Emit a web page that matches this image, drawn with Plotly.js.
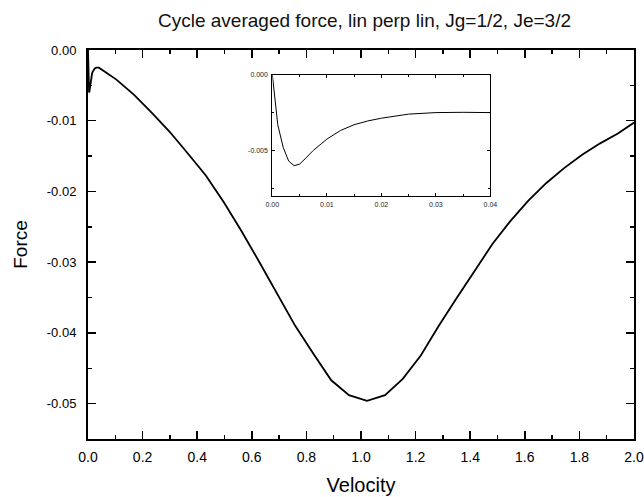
<!DOCTYPE html>
<html>
<head>
<meta charset="utf-8">
<script src="https://cdn.plot.ly/plotly-3.0.1.min.js"></script>
<style>html,body{margin:0;padding:0;background:#fff;}#chart{width:644px;height:497px;}</style>
</head>
<body>
<div id="chart"></div>
<script>
var velocity = [0, 0.001, 0.002, 0.003, 0.004, 0.005, 0.006, 0.0075, 0.009, 0.01, 0.0125, 0.015, 0.0175, 0.02, 0.025, 0.03, 0.035, 0.04,
  0.103, 0.168, 0.234, 0.300, 0.365, 0.431, 0.497, 0.562, 0.628, 0.694, 0.759, 0.825, 0.891, 0.956, 1.022,
  1.088, 1.153, 1.219, 1.285, 1.350, 1.416, 1.482, 1.547, 1.613, 1.679, 1.744, 1.810, 1.876, 1.941, 2.007];
var force = [0, -0.0033, -0.0048, -0.0057, -0.0060, -0.0059, -0.00555, -0.0050, -0.00455, -0.00425, -0.00368, -0.0033, -0.00305, -0.00287, -0.0026, -0.0025, -0.00248, -0.0025,
  -0.00415, -0.0063, -0.0089, -0.0116, -0.0146, -0.0177, -0.0215, -0.0256, -0.0300, -0.0346, -0.0390, -0.0429, -0.0467, -0.0488, -0.0496,
  -0.0488, -0.0465, -0.0432, -0.0390, -0.0351, -0.0313, -0.0274, -0.0242, -0.0213, -0.0188, -0.0167, -0.0148, -0.0132, -0.0118, -0.0101];

var mainXTicks = [0, 0.2, 0.4, 0.6, 0.8, 1.0, 1.2, 1.4, 1.6, 1.8, 2.0];
var mainXLabels = ["0.0", "0.2", "0.4", "0.6", "0.8", "1.0", "1.2", "1.4", "1.6", "1.8", "2.0"];
var mainYTicks = [0, -0.01, -0.02, -0.03, -0.04, -0.05];
var mainYLabels = ["0.00", "-0.01", "-0.02", "-0.03", "-0.04", "-0.05"];
var insetXTicks = [0, 0.01, 0.02, 0.03, 0.04];
var insetXLabels = ["0.00", "0.01", "0.02", "0.03", "0.04"];
var insetYTicks = [0, -0.005];
var insetYLabels = ["0.000", "-0.005"];

var font = "Liberation Sans, Arial, sans-serif";

var traces = [
  {x: velocity, y: force, type: "scatter", mode: "lines", line: {color: "#000", width: 1.8}, xaxis: "x", yaxis: "y", hoverinfo: "none"},
  {x: velocity, y: force, type: "scatter", mode: "lines", line: {color: "#000", width: 1}, xaxis: "x2", yaxis: "y2", hoverinfo: "none"}
];

var layout = {
  width: 644, height: 497,
  margin: {l: 88, r: 10, t: 50, b: 58},
  paper_bgcolor: "#fff", plot_bgcolor: "#fff",
  showlegend: false,
  font: {family: font, color: "#000"},
  title: {text: "Cycle averaged force, lin perp lin, Jg=1/2, Je=3/2", font: {size: 19, color: "#111"}, x: 0.566, xanchor: "center", y: 0.96, yanchor: "middle"},
  xaxis: {
    domain: [0, 1], range: [0, 2], showgrid: false, zeroline: false,
    showline: true, linewidth: 2, linecolor: "#000", mirror: "ticks",
    ticks: "inside", ticklen: 8, tickwidth: 1.5, tickcolor: "#000",
    tickvals: mainXTicks, ticktext: mainXLabels, tickfont: {size: 14},
    ticklabelstandoff: 4,
    minor: {dtick: 0.1, ticks: "inside", ticklen: 4, tickwidth: 1.5, tickcolor: "#000"},
    title: {text: "Velocity", font: {size: 20}, standoff: 14}
  },
  yaxis: {
    domain: [0, 1], range: [-0.055, 0], showgrid: false, zeroline: false,
    showline: true, linewidth: 2, linecolor: "#000", mirror: "ticks",
    ticks: "inside", ticklen: 8, tickwidth: 1.5, tickcolor: "#000",
    tickvals: mainYTicks, ticktext: mainYLabels, tickfont: {size: 13},
    ticklabelstandoff: 7,
    minor: {dtick: 0.005, tick0: 0, ticks: "inside", ticklen: 4, tickwidth: 1.5, tickcolor: "#000"},
    title: {text: "Force", font: {size: 19}, standoff: 14}
  },
  xaxis2: {
    domain: [0.3376, 0.737], anchor: "y2", range: [0, 0.04], showgrid: false, zeroline: false,
    showline: true, linewidth: 1, linecolor: "#000", mirror: "ticks",
    ticks: "inside", ticklen: 3, tickwidth: 1, tickcolor: "#000",
    tickvals: insetXTicks, ticktext: insetXLabels, tickfont: {size: 7, color: "#222"},
    ticklabelstandoff: 2,
    minor: {dtick: 0.005, ticks: "inside", ticklen: 2, tickwidth: 1, tickcolor: "#000"}
  },
  yaxis2: {
    domain: [0.6247, 0.9365], anchor: "x2", range: [-0.008, 0], showgrid: false, zeroline: false,
    showline: true, linewidth: 1, linecolor: "#000", mirror: "ticks",
    ticks: "inside", ticklen: 3, tickwidth: 1, tickcolor: "#000",
    tickvals: insetYTicks, ticktext: insetYLabels, tickfont: {size: 7, color: "#222"},
    ticklabelstandoff: 2,
    minor: {dtick: 0.0025, tick0: 0, ticks: "inside", ticklen: 2, tickwidth: 1, tickcolor: "#000"}
  }
};

Plotly.newPlot("chart", traces, layout, {staticPlot: true, displayModeBar: false});
</script>
</body>
</html>
